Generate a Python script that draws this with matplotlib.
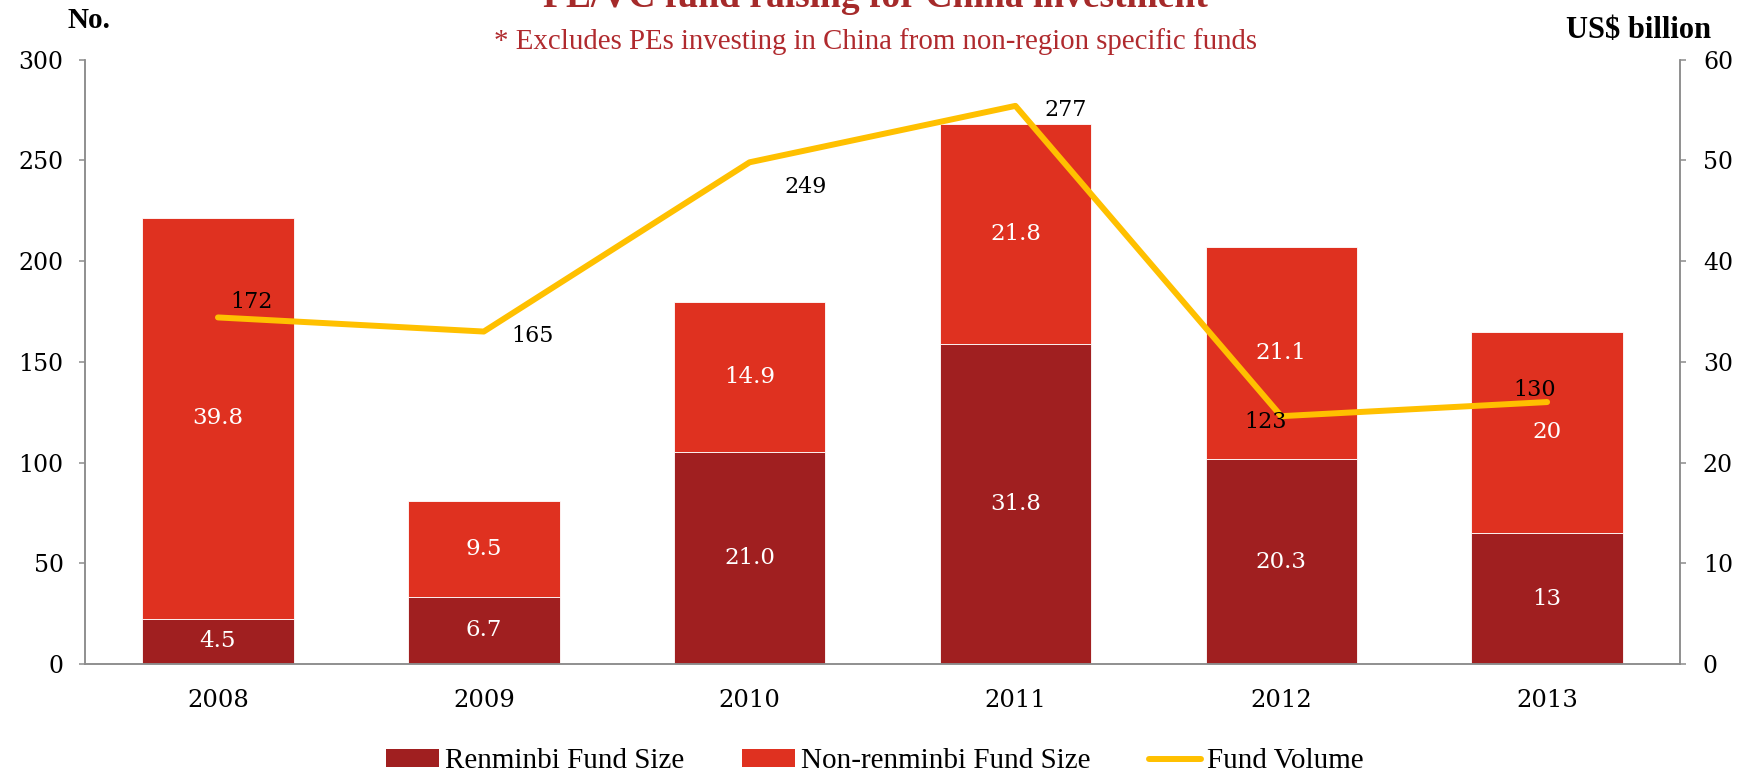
import matplotlib
matplotlib.use("Agg")
import matplotlib.pyplot as plt
import numpy as np
from matplotlib.patches import Patch
from matplotlib.lines import Line2D

# données
years = ["2008", "2009", "2010", "2011", "2012", "2013"]
rmb_size = [4.5, 6.7, 21.0, 31.8, 20.3, 13]
rmb_labels = ["4.5", "6.7", "21.0", "31.8", "20.3", "13"]
non_rmb_size = [39.8, 9.5, 14.9, 21.8, 21.1, 20]
non_rmb_labels = ["39.8", "9.5", "14.9", "21.8", "21.1", "20"]
fund_volume = [172, 165, 249, 277, 123, 130]

# décalage des étiquettes de la courbe (points)
volume_offsets = [(24, 11), (35, -3), (40, -18), (36, -3), (-11, -4), (-9, 9)]

RMB_COLOR = "#A01F20"
NON_RMB_COLOR = "#DF3120"
LINE_COLOR = "#FFC000"
GRID_GRAY = "#8C8C8C"
NUM_FONT = "DejaVu Serif"
TXT_FONT = "Liberation Serif"

plt.rcParams["font.family"] = [NUM_FONT]

fig = plt.figure(figsize=(17.5, 7.73), dpi=100, facecolor="white")
ax_no = fig.add_axes([0.0486, 0.141, 0.9114, 0.782])
ax_usd = ax_no.twinx()
# la courbe passe au-dessus des barres
ax_no.set_zorder(ax_usd.get_zorder() + 1)
ax_no.patch.set_visible(False)

x = np.arange(len(years))
rmb = np.array(rmb_size)
non_rmb = np.array(non_rmb_size)

ax_usd.bar(x, rmb, 0.57, color=RMB_COLOR, edgecolor="white", linewidth=0.6)
ax_usd.bar(x, non_rmb, 0.57, bottom=rmb, color=NON_RMB_COLOR, edgecolor="white", linewidth=0.6)

for i in range(len(years)):
    ax_usd.text(x[i], rmb[i] / 2, rmb_labels[i], ha="center", va="center",
                color="white", fontsize=16.5)
    ax_usd.text(x[i], rmb[i] + non_rmb[i] / 2, non_rmb_labels[i], ha="center", va="center",
                color="white", fontsize=16.5)

ax_no.plot(x, fund_volume, color=LINE_COLOR, linewidth=4.3, solid_capstyle="round")
for i, v in enumerate(fund_volume):
    ax_no.annotate(str(v), (x[i], v), xytext=volume_offsets[i], textcoords="offset points",
                   ha="center", va="center", fontsize=16, color="black")

ax_no.set_xlim(-0.5, len(years) - 0.5)
ax_no.set_ylim(0, 300)
ax_no.set_yticks(np.arange(0, 301, 50))
ax_usd.set_ylim(0, 60)
ax_usd.set_yticks(np.arange(0, 61, 10))
ax_no.set_xticks(x, years)

ax_no.tick_params(axis="x", length=0, pad=18, labelsize=17.5)
ax_no.tick_params(axis="y", length=4.5, width=1.1, color=GRID_GRAY, pad=11, labelsize=17)
ax_usd.tick_params(axis="y", length=4.5, width=1.1, color=GRID_GRAY, pad=12, labelsize=17)

for a in (ax_no, ax_usd):
    a.spines["top"].set_visible(False)
    for s in ("left", "right", "bottom"):
        a.spines[s].set_color(GRID_GRAY)
        a.spines[s].set_linewidth(1.1)

# titres
fig.text(0.5, 0.991, "PE/VC fund raising for China investment", ha="center", va="baseline",
         fontsize=27, fontweight="bold", color="#A52A2A", family=TXT_FONT)
fig.text(0.5, 0.946, "* Excludes PEs investing in China from non-region specific funds",
         ha="center", va="center", fontsize=20.8, color="#B02A2E", family=TXT_FONT)
fig.text(0.051, 0.974, "No.", ha="center", va="center", fontsize=21,
         fontweight="bold", family=TXT_FONT)
fig.text(0.978, 0.96, "US$ billion", ha="right", va="center", fontsize=22,
         fontweight="bold", family=TXT_FONT)

handles = [
    Patch(facecolor=RMB_COLOR, label="Renminbi Fund Size"),
    Patch(facecolor=NON_RMB_COLOR, label="Non-renminbi Fund Size"),
    Line2D([0], [0], color=LINE_COLOR, linewidth=4.3, solid_capstyle="round", label="Fund Volume"),
]
fig.legend(handles=handles, loc="center", bbox_to_anchor=(0.5, 0.015), ncol=3,
           frameon=False, handlelength=1.8, handleheight=0.55, handletextpad=0.2,
           columnspacing=2.0, prop={"family": TXT_FONT, "size": 21})

fig.savefig("out.png", dpi=100, facecolor="white")
